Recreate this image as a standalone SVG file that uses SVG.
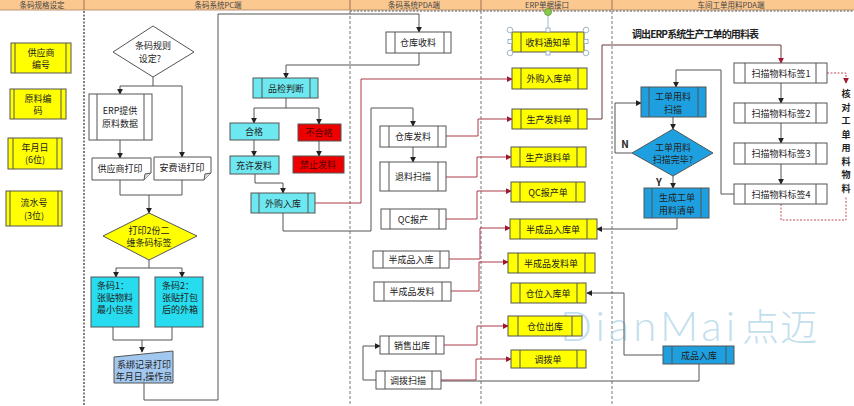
<svg xmlns="http://www.w3.org/2000/svg" width="854" height="406" viewBox="0 0 854 406">
<defs>
<style>
text{font-family:"Noto Sans CJK SC","Noto Sans",sans-serif;font-size:9px;fill:#222;text-anchor:middle}
.hd{font-size:7.5px;fill:#444}
.b{stroke:#555;stroke-width:1}
.yl{fill:#ffff00}
.wt{fill:#fff}
.cy{fill:#6ee8f0}
.cy2{fill:#26dcee}
.rd{fill:#ee0000}
.bl{fill:#1ea0e0}
.lb{fill:#a2c8f0}
.in{stroke:#555;stroke-width:1}
.c{fill:none;stroke:#555;stroke-width:1}
.cr{fill:none;stroke:#b03a48;stroke-width:1}
.cd{fill:none;stroke:#c0505a;stroke-width:1;stroke-dasharray:2,1.5}
.lane{stroke:#777;stroke-width:1;stroke-dasharray:3,2}
.bold{font-weight:bold;font-size:10px;fill:#222}
.vt{font-weight:bold;font-size:9px;fill:#222}
</style>
<marker id="a" viewBox="0 0 8 8" refX="7" refY="4" markerWidth="6" markerHeight="6" orient="auto" markerUnits="userSpaceOnUse"><path d="M0,0 L8,4 L0,8 Z" fill="#222"/></marker>
<marker id="ar" viewBox="0 0 8 8" refX="7" refY="4" markerWidth="6" markerHeight="6" orient="auto" markerUnits="userSpaceOnUse"><path d="M0,0 L8,4 L0,8 Z" fill="#a01830"/></marker>
</defs>
<rect width="854" height="406" fill="#fff"/>

<!-- header -->
<g id="header">
<rect x="0" y="0" width="854" height="10" fill="#fbc890"/>
<line x1="0" y1="10" x2="854" y2="10" stroke="#b08060" stroke-width="0.8"/>
<line x1="350" y1="11" x2="854" y2="11" stroke="#555" stroke-dasharray="2,1.5"/>
<g stroke="#a07050" stroke-width="1"><line x1="84" y1="0" x2="84" y2="10"/><line x1="350" y1="0" x2="350" y2="10"/><line x1="481" y1="0" x2="481" y2="10"/><line x1="612" y1="0" x2="612" y2="10"/></g>
<text class="hd" x="42" y="7.5">条码规格设定</text>
<text class="hd" x="218" y="7.5">条码系统PC端</text>
<text class="hd" x="414" y="7.5">条码系统PDA端</text>
<text class="hd" x="547" y="7.5">ERP单据接口</text>
<text class="hd" x="731" y="7.5">车间工单用料PDA端</text>
</g>
<g id="lanes">
<line x1="84" y1="11" x2="84" y2="406" stroke="#555" stroke-width="1.5" stroke-dasharray="2,1.5"/>
<line class="lane" x1="350" y1="11" x2="350" y2="406"/>
<line class="lane" x1="481" y1="11" x2="481" y2="406"/>
<line class="lane" x1="612" y1="11" x2="612" y2="406"/>
</g>

<!-- watermark -->
<g id="watermark" opacity="0.8">
<text x="560" y="341" style="font-family:Lato,'Open Sans',sans-serif;font-weight:300;font-size:42px;fill:#b4d8ea;text-anchor:start" textLength="175">DianMai</text>
<text x="742" y="341" style="font-family:'Noto Sans CJK SC',sans-serif;font-weight:300;font-size:37px;fill:#b4d8ea;text-anchor:start" textLength="75">点迈</text>
</g>

<!-- connectors -->
<g id="connectors">
<path class="c" d="M153,77 V86 M120,86 H182"/>
<path class="c" d="M120,86 V94" marker-end="url(#a)"/>
<path class="c" d="M182,86 V157" marker-end="url(#a)"/>
<path class="c" d="M120,140 V158" marker-end="url(#a)"/>
<path class="c" d="M120,180 V195 H182 V180"/>
<path class="c" d="M149,195 V213" marker-end="url(#a)"/>
<path class="c" d="M149,260 V268 M116,268 H182"/>
<path class="c" d="M116,268 V277" marker-end="url(#a)"/>
<path class="c" d="M182,268 V277" marker-end="url(#a)"/>
<path class="c" d="M113,327 V340 H172 V327"/>
<path class="c" d="M142,340 V352" marker-end="url(#a)"/>
<path class="c" d="M144,383 V400 H218 V14 H419 V32" marker-end="url(#a)"/>
<path class="c" d="M419,53 V65 H286 V78" marker-end="url(#a)"/>
<path class="c" d="M286,98 V108 M254,108 H319"/>
<path class="c" d="M254,108 V123" marker-end="url(#a)"/>
<path class="c" d="M319,108 V124" marker-end="url(#a)"/>
<path class="c" d="M254,140 V156" marker-end="url(#a)"/>
<path class="c" d="M319,141 V156" marker-end="url(#a)"/>
<path class="c" d="M255,174 V183 H283 V193" marker-end="url(#a)"/>
<path class="cr" d="M315,203 H361 V79 H512" marker-end="url(#ar)"/>
<path class="c" d="M283,213 V231 H371 V108 H413 V126" marker-end="url(#a)"/>
<path class="c" d="M413,147 V162" marker-end="url(#a)"/>
<path class="c" d="M376,380 H363 V346 H380" marker-end="url(#a)"/>
<path class="cr" d="M446,136 H478 V119 H512" marker-end="url(#ar)"/>
<path class="cr" d="M446,177 H477 V157 H511" marker-end="url(#ar)"/>
<path class="cr" d="M446,219 H477 V191 H511" marker-end="url(#ar)"/>
<path class="cr" d="M449,259 H480 V228 H510" marker-end="url(#ar)"/>
<path class="cr" d="M451,291 H479 V262 H508" marker-end="url(#ar)"/>
<path class="cr" d="M444,345 H477 V326 H508" marker-end="url(#ar)"/>
<path class="cr" d="M441,380 H476 V359 H511" marker-end="url(#ar)"/>
<path fill="none" stroke="#6b3b3b" stroke-width="1" d="M587,119 H602 V45 H781 V63" marker-end="url(#ar)"/>
<path class="c" d="M781,83 V103" marker-end="url(#a)"/>
<path class="c" d="M781,123 V143" marker-end="url(#a)"/>
<path class="c" d="M781,164 V184" marker-end="url(#a)"/>
<path class="cd" d="M827,73 H846 V83" marker-end="url(#ar)"/>
<path class="cd" d="M781,204 V220 H846 V197"/>
<path class="c" d="M734,194 H721 V70 H676 V87" marker-end="url(#a)"/>
<path class="c" d="M673,117 V129" marker-end="url(#a)"/>
<path class="c" d="M632,153 H615 V103 H641" marker-end="url(#a)"/>
<path class="c" d="M673,176 V188" marker-end="url(#a)"/>
<path class="c" d="M677,218 V229 H597" marker-end="url(#a)"/>
<path class="c" d="M663,355 H624 V293 H587" marker-end="url(#a)"/>
<path class="c" d="M699,364 V381 H441"/>
<text class="bold" x="625" y="148">N</text>
<text class="bold" x="659" y="186">Y</text>
</g>

<!-- left column -->
<g id="n-supplier"><rect class="b yl" x="11" y="43" width="60" height="30"/><path class="in" d="M15,43 V73 M66,43 V73"/><text x="41" y="56">供应商</text><text x="41" y="68">编号</text></g>
<g id="n-material"><rect class="b yl" x="10" y="89" width="56" height="30"/><path class="in" d="M14,89 V119 M61,89 V119"/><text x="38" y="102">原料编</text><text x="38" y="114">码</text></g>
<g id="n-date"><rect class="b yl" x="8" y="138" width="54" height="31"/><path class="in" d="M13,138 V169 M57,138 V169"/><text x="35" y="151">年月日</text><text x="35" y="163">(6位)</text></g>
<g id="n-serial"><rect class="b yl" x="6" y="191" width="56" height="35"/><path class="in" d="M10,191 V226 M58,191 V226"/><text x="34" y="206">流水号</text><text x="34" y="219">(3位)</text></g>

<!-- PC column -->
<g id="n-rule"><polygon class="b wt" points="153,26 194,52 153,77 113,52"/><text x="153" y="49">条码规则</text><text x="150" y="62">设定?</text></g>
<g id="n-erpdata"><rect class="b wt" x="89" y="94" width="63" height="46"/><path class="in" d="M97,94 V140 M144,94 V140"/><text x="120" y="114">ERP提供</text><text x="120" y="127">原料数据</text></g>
<g id="n-supprint"><path class="b wt" d="M92,158 H151 V173 L144,180 H92 Z"/><path class="in" fill="#ddd" d="M144,180 L145,174 L151,173"/><text x="120" y="172">供应商打印</text></g>
<g id="n-safeprint"><path class="b wt" d="M154,157 H211 V173 L204,180 H154 Z"/><path class="in" fill="#ddd" d="M204,180 L205,174 L211,173"/><text x="182" y="171">安费语打印</text></g>
<g id="n-print2"><polygon class="b yl" points="149,213 197,236 149,260 103,236"/><text x="149" y="234">打印2份二</text><text x="149" y="246">维条码标签</text></g>
<g id="n-code1"><rect class="b cy2" x="91" y="277" width="48" height="50"/><text x="97" y="289" style="text-anchor:start">条码1：</text><text x="97" y="301" style="text-anchor:start">张贴物料</text><text x="97" y="313" style="text-anchor:start">最小包装</text></g>
<g id="n-code2"><rect class="b cy2" x="155" y="277" width="48" height="50"/><text x="162" y="289" style="text-anchor:start">条码2：</text><text x="162" y="301" style="text-anchor:start">张贴打包</text><text x="162" y="313" style="text-anchor:start">后的外箱</text></g>
<g id="n-bind"><path class="b lb" d="M114,357 L173,351 V383 H114 Z"/><text x="144" y="368">系绑记录打印</text><text x="144" y="380">年月日,操作员</text></g>
<g id="n-qc"><rect class="b cy" x="253" y="78" width="65" height="20"/><path class="in" d="M262,78 V98 M310,78 V98"/><text x="286" y="91.5">品检判断</text></g>
<g id="n-pass"><rect class="b cy" x="230" y="123" width="49" height="17"/><text x="254" y="135">合格</text></g>
<g id="n-fail"><rect class="b rd" x="298" y="124" width="43" height="17"/><text x="319" y="136" style="fill:#500">不合格</text></g>
<g id="n-allow"><rect class="b cy" x="230" y="156" width="49" height="18"/><text x="254" y="168.5">充许发料</text></g>
<g id="n-forbid"><rect class="b rd" x="293" y="156" width="51" height="17"/><text x="318" y="168" style="fill:#500">禁止发料</text></g>
<g id="n-purchase"><rect class="b cy" x="251" y="193" width="64" height="20"/><path class="in" d="M259,193 V213 M308,193 V213"/><text x="283" y="206.5">外购入库</text></g>

<!-- PDA column -->
<g id="n-receive"><rect class="b wt" x="386" y="32" width="65" height="21"/><path class="in" d="M395,32 V53 M444,32 V53"/><text x="418" y="46">仓库收料</text></g>
<g id="n-issue"><rect class="b wt" x="380" y="126" width="66" height="21"/><path class="in" d="M389,126 V147 M438,126 V147"/><text x="413" y="140">仓库发料</text></g>
<g id="n-return"><rect class="b wt" x="380" y="162" width="66" height="29"/><path class="in" d="M389,162 V191 M438,162 V191"/><text x="413" y="180">退料扫描</text></g>
<g id="n-qcrep"><rect class="b wt" x="381" y="209" width="65" height="20"/><path class="in" d="M390,209 V229 M439,209 V229"/><text x="413" y="222.5">QC报产</text></g>
<g id="n-semiin"><rect class="b wt" x="373" y="251" width="76" height="17"/><path class="in" d="M383,251 V268 M440,251 V268"/><text x="411" y="263">半成品入库</text></g>
<g id="n-semiout"><rect class="b wt" x="374" y="282" width="77" height="19"/><path class="in" d="M384,282 V301 M442,282 V301"/><text x="412" y="295">半成品发料</text></g>
<g id="n-sale"><rect class="b wt" x="380" y="336" width="64" height="18"/><path class="in" d="M389,336 V354 M436,336 V354"/><text x="412" y="348.5">销售出库</text></g>
<g id="n-transfer"><rect class="b wt" x="376" y="371" width="65" height="18"/><path class="in" d="M385,371 V389 M432,371 V389"/><text x="408" y="383.5">调拨扫描</text></g>

<!-- ERP column -->
<g id="n-notice"><rect class="b yl" x="512" y="32" width="72" height="20"/><path class="in" d="M521,32 V52 M577,32 V52"/><text x="548" y="45.5">收料通知单</text>
<g fill="#fff" stroke="#8aa4b8" stroke-width="0.8"><line x1="548" y1="15" x2="548" y2="30"/><circle cx="510" cy="30" r="2.8"/><circle cx="586" cy="30" r="2.8"/><circle cx="510" cy="53" r="2.8"/><circle cx="586" cy="53" r="2.8"/><rect x="546" y="28" width="4" height="4"/><rect x="546" y="51" width="4" height="4"/><rect x="508" y="39.5" width="4" height="4"/><rect x="584" y="39.5" width="4" height="4"/></g>
<circle cx="548" cy="12" r="3.5" fill="#8cc850" stroke="#5a9a30" stroke-width="0.8"/></g>
<g id="n-purchasedoc"><rect class="b yl" x="512" y="68" width="75" height="21"/><path class="in" d="M521,68 V89 M578,68 V89"/><text x="549" y="82">外购入库单</text></g>
<g id="n-issuedoc"><rect class="b yl" x="512" y="109" width="75" height="20"/><path class="in" d="M521,109 V129 M578,109 V129"/><text x="549" y="122.5">生产发料单</text></g>
<g id="n-returndoc"><rect class="b yl" x="511" y="147" width="75" height="20"/><path class="in" d="M520,147 V167 M577,147 V167"/><text x="548" y="160.5">生产退料单</text></g>
<g id="n-qcdoc"><rect class="b yl" x="511" y="182" width="74" height="20"/><path class="in" d="M520,182 V202 M576,182 V202"/><text x="548" y="195.5">QC报产单</text></g>
<g id="n-semiindoc"><rect class="b yl" x="510" y="219" width="87" height="20"/><path class="in" d="M520,219 V239 M587,219 V239"/><text x="553" y="232.5">半成品入库单</text></g>
<g id="n-semioutdoc"><rect class="b yl" x="508" y="253" width="87" height="20"/><path class="in" d="M518,253 V273 M585,253 V273"/><text x="551" y="266.5">半成品发料单</text></g>
<g id="n-locin"><rect class="b yl" x="511" y="283" width="75" height="20"/><path class="in" d="M520,283 V303 M577,283 V303"/><text x="548" y="296.5">仓位入库单</text></g>
<g id="n-locout"><rect class="b yl" x="508" y="316" width="74" height="20"/><path class="in" d="M518,316 V336 M572,316 V336"/><text x="545" y="329.5">仓位出库</text></g>
<g id="n-transdoc"><rect class="b yl" x="511" y="350" width="75" height="18"/><path class="in" d="M520,350 V368 M577,350 V368"/><text x="548" y="362.5">调拨单</text></g>

<!-- workshop column -->
<text class="bold" x="632" y="38" style="text-anchor:start" textLength="127">调出ERP系统生产工单的用料表</text>
<g id="n-scan1"><rect class="b wt" x="734" y="63" width="93" height="20"/><path class="in" d="M745,63 V83 M816,63 V83"/><text x="781" y="76.5">扫描物料标签1</text></g>
<g id="n-scan2"><rect class="b wt" x="734" y="103" width="93" height="20"/><path class="in" d="M745,103 V123 M816,103 V123"/><text x="781" y="116.5">扫描物料标签2</text></g>
<g id="n-scan3"><rect class="b wt" x="734" y="143" width="93" height="21"/><path class="in" d="M745,143 V164 M816,143 V164"/><text x="781" y="157">扫描物料标签3</text></g>
<g id="n-scan4"><rect class="b wt" x="734" y="184" width="93" height="20"/><path class="in" d="M745,184 V204 M816,184 V204"/><text x="781" y="197.5">扫描物料标签4</text></g>
<g id="n-check"><text class="vt" x="846" y="97">核</text><text class="vt" x="846" y="110.5">对</text><text class="vt" x="846" y="124">工</text><text class="vt" x="846" y="137.5">单</text><text class="vt" x="846" y="151">用</text><text class="vt" x="846" y="164.5">料</text><text class="vt" x="846" y="178">物</text><text class="vt" x="846" y="191.5">料</text></g>
<g id="n-woscan"><rect class="b bl" x="641" y="87" width="65" height="30"/><path class="in" d="M649,87 V117 M698,87 V117"/><text x="673" y="100">工单用料</text><text x="673" y="113">扫描</text></g>
<g id="n-done"><polygon class="b bl" points="673,129 713,153 673,176 632,153"/><text x="673" y="151">工单用料</text><text x="673" y="163">扫描完毕?</text></g>
<g id="n-list"><rect class="b bl" x="644" y="188" width="65" height="30"/><path class="in" d="M652,188 V218 M701,188 V218"/><text x="677" y="201">生成工单</text><text x="677" y="214">用料清单</text></g>
<g id="n-finished"><rect class="b bl" x="663" y="346" width="71" height="18"/><path class="in" d="M672,346 V364 M726,346 V364"/><text x="699" y="358.5">成品入库</text></g>
</svg>
